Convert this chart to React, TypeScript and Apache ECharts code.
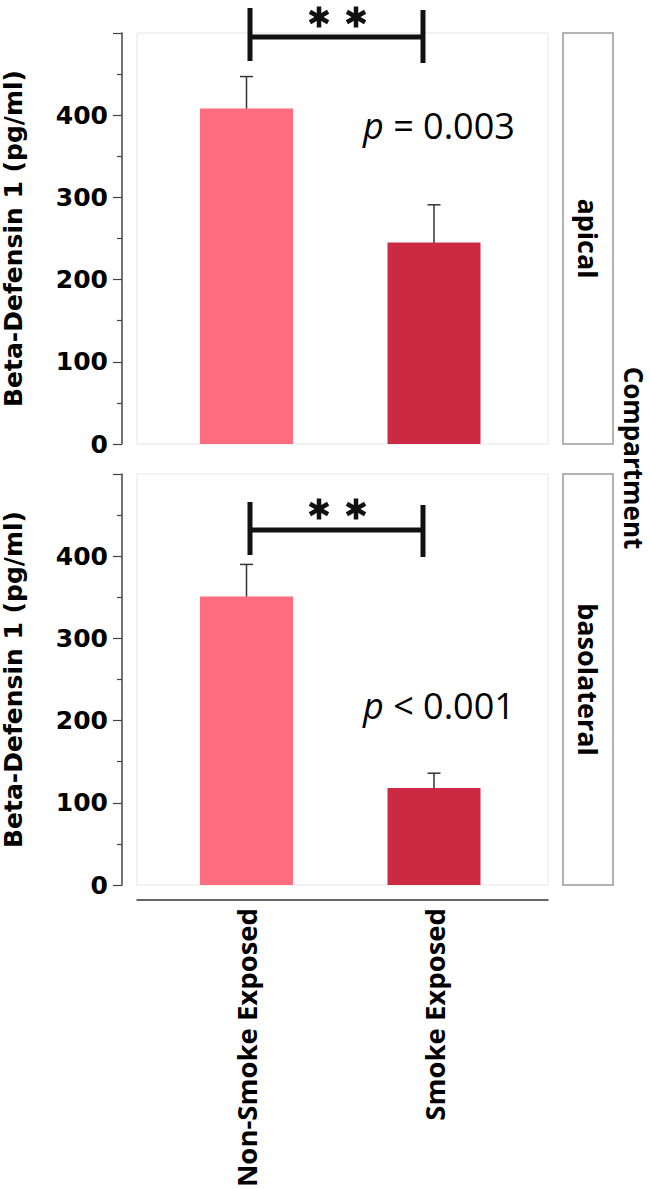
import React, { useEffect, useRef } from "react";
import * as echarts from "echarts";

const categories = ["Non-Smoke Exposed", "Smoke Exposed"];
const compartments = ["apical", "basolateral"];
const apicalMeans = [408, 245];
const apicalLow = [369, 201];
const apicalHigh = [447, 291];
const basoMeans = [351, 118];
const basoLow = [312, 101];
const basoHigh = [390, 136];
const pTexts = [" = 0.003", " < 0.001"];
const yTicks = [0, 100, 200, 300, 400];
const barColors = ["#FF6D7F", "#CC2A43"];

const W = 651;
const H = 1189;
const PLOT_LEFT = 137;
const PLOT_W = 411;
const PLOT_H = 411;
const PANEL_TOPS = [33, 474];
const XMIN = -0.584;
const XMAX = 1.608;

function starLines(cx: number, cy: number, r: number) {
  const angles = [90, 30, 150];
  return angles.map((a) => {
    const rad = (a * Math.PI) / 180;
    return {
      type: "line",
      shape: {
        x1: cx - r * Math.cos(rad),
        y1: cy - r * Math.sin(rad),
        x2: cx + r * Math.cos(rad),
        y2: cy + r * Math.sin(rad),
      },
      style: { stroke: "#111", lineWidth: 4.5, lineCap: "butt" },
    };
  });
}

export default function App() {
  const ref = useRef<HTMLDivElement>(null);
  useEffect(() => {
    if (!ref.current) return;
    const chart = echarts.init(ref.current, null, { renderer: "svg" });
    const means = [apicalMeans, basoMeans];
    const lows = [apicalLow, basoLow];
    const highs = [apicalHigh, basoHigh];

    const grids = PANEL_TOPS.map((t) => ({
      left: PLOT_LEFT,
      top: t,
      width: PLOT_W,
      height: PLOT_H,
      show: true,
      borderColor: "#e6e6e6",
      borderWidth: 1,
      backgroundColor: "#fff",
      containLabel: false,
      outerBoundsMode: "none",
    }));

    const xAxes = [0, 1].map((i) => ({
      type: "value",
      gridIndex: i,
      min: XMIN,
      max: XMAX,
      splitLine: { show: false },
      axisTick: { show: false },
      axisLine: { show: i === 1, onZero: false, lineStyle: { color: "#333", width: 1.5 } },
      offset: 15,
      axisLabel: {
        show: i === 1,
        customValues: [0, 1],
        formatter: (v: number) => categories[Math.round(v)] ?? "",
        rotate: 90,
        margin: 8,
        color: "#000",
        fontFamily: "Open Sans",
        fontWeight: "bold",
        fontSize: 27.5,
      },
    }));

    const yAxes = [0, 1].map((i) => ({
      type: "value",
      gridIndex: i,
      min: 0,
      max: 500,
      interval: 100,
      offset: 15,
      splitLine: { show: false },
      axisLine: { show: true, onZero: false, lineStyle: { color: "#444", width: 1.5 } },
      axisTick: { show: true, length: 9, lineStyle: { color: "#444", width: 1.2 } },
      minorTick: { show: true, splitNumber: 2, length: 5, lineStyle: { color: "#444", width: 1.2 } },
      axisLabel: {
        formatter: (v: number) => (yTicks.includes(v) ? String(v) : ""),
        margin: 14,
        color: "#000",
        fontFamily: "DejaVu Sans",
        fontWeight: "bold",
        fontSize: 25,
      },
      name: "Beta-Defensin 1 (pg/ml)",
      nameLocation: "middle",
      nameGap: 96,
      nameTextStyle: {
        color: "#000",
        fontFamily: "DejaVu Sans",
        fontWeight: "bold",
        fontSize: 25,
      },
    }));

    const series: any[] = [];
    [0, 1].forEach((i) => {
      series.push({
        type: "bar",
        xAxisIndex: i,
        yAxisIndex: i,
        barWidth: 93,
        data: means[i].map((m, k) => ({ value: [k, m], itemStyle: { color: barColors[k] } })),
      });
      series.push({
        type: "custom",
        xAxisIndex: i,
        yAxisIndex: i,
        data: means[i].map((_, k) => [k, lows[i][k], highs[i][k]]),
        encode: { x: 0, y: [1, 2] },
        renderItem: (params: any, api: any) => {
          const x = api.value(0);
          const top = api.coord([x, api.value(2)]);
          const bot = api.coord([x, api.value(1)]);
          const hw = 6.5;
          const st = { stroke: "#333", lineWidth: 1.5 };
          return {
            type: "group",
            children: [
              { type: "line", shape: { x1: top[0], y1: top[1], x2: bot[0], y2: bot[1] }, style: st },
              { type: "line", shape: { x1: top[0] - hw, y1: top[1], x2: top[0] + hw, y2: top[1] }, style: st },
              { type: "line", shape: { x1: bot[0] - hw, y1: bot[1], x2: bot[0] + hw, y2: bot[1] }, style: st },
            ],
          };
        },
      });
    });

    const graphic: any[] = [];
    const bracketCfg = [
      { y: 37, l1: 8, l2: 61, r1: 10, r2: 63, starY: 17 },
      { y: 530, l1: 502, l2: 555, r1: 505, r2: 557, starY: 509 },
    ];
    const bx1 = 250;
    const bx2 = 423;
    bracketCfg.forEach((b) => {
      const st = { stroke: "#111", lineWidth: 5 };
      graphic.push({ type: "line", shape: { x1: bx1, y1: b.y, x2: bx2, y2: b.y }, style: st });
      graphic.push({ type: "line", shape: { x1: bx1, y1: b.l1, x2: bx1, y2: b.l2 }, style: st });
      graphic.push({ type: "line", shape: { x1: bx2, y1: b.r1, x2: bx2, y2: b.r2 }, style: st });
      graphic.push(...starLines(319, b.starY, 10.5));
      graphic.push(...starLines(356, b.starY, 10.5));
    });

    const pY = [125, 705];
    pTexts.forEach((t, i) => {
      graphic.push({
        type: "text",
        x: 363,
        y: pY[i],
        style: {
          text: `{i|p}{n|${t}}`,
          verticalAlign: "middle",
          align: "left",
          rich: {
            i: { fontFamily: "Open Sans", fontStyle: "italic", fontSize: 36, fill: "#000" },
            n: { fontFamily: "Open Sans", fontSize: 36, fill: "#000" },
          },
        },
      });
    });

    PANEL_TOPS.forEach((t, i) => {
      graphic.push({
        type: "rect",
        shape: { x: 563, y: t, width: 50, height: PLOT_H },
        style: { fill: "#fff", stroke: "#999", lineWidth: 1.5 },
      });
      graphic.push({
        type: "text",
        x: 588,
        y: t + PLOT_H / 2,
        rotation: -Math.PI / 2,
        style: {
          text: compartments[i],
          align: "center",
          verticalAlign: "middle",
          fontFamily: "Open Sans",
          fontWeight: "bold",
          fontSize: 27,
          lineHeight: 24,
          fill: "#000",
        },
      });
    });

    graphic.push({
      type: "text",
      x: 634,
      y: 458,
      rotation: -Math.PI / 2,
      style: {
        text: "Compartment",
        align: "center",
        verticalAlign: "middle",
        fontFamily: "Open Sans",
        fontWeight: "bold",
        fontSize: 26,
        lineHeight: 22,
        fill: "#000",
      },
    });

    chart.setOption({
      animation: false,
      backgroundColor: "#fff",
      grid: grids,
      xAxis: xAxes,
      yAxis: yAxes,
      series,
      graphic,
    });
    return () => chart.dispose();
  }, []);

  return (
    <div
      ref={ref}
      style={{ position: "fixed", left: 0, top: 0, width: W, height: H, background: "#fff" }}
    />
  );
}
